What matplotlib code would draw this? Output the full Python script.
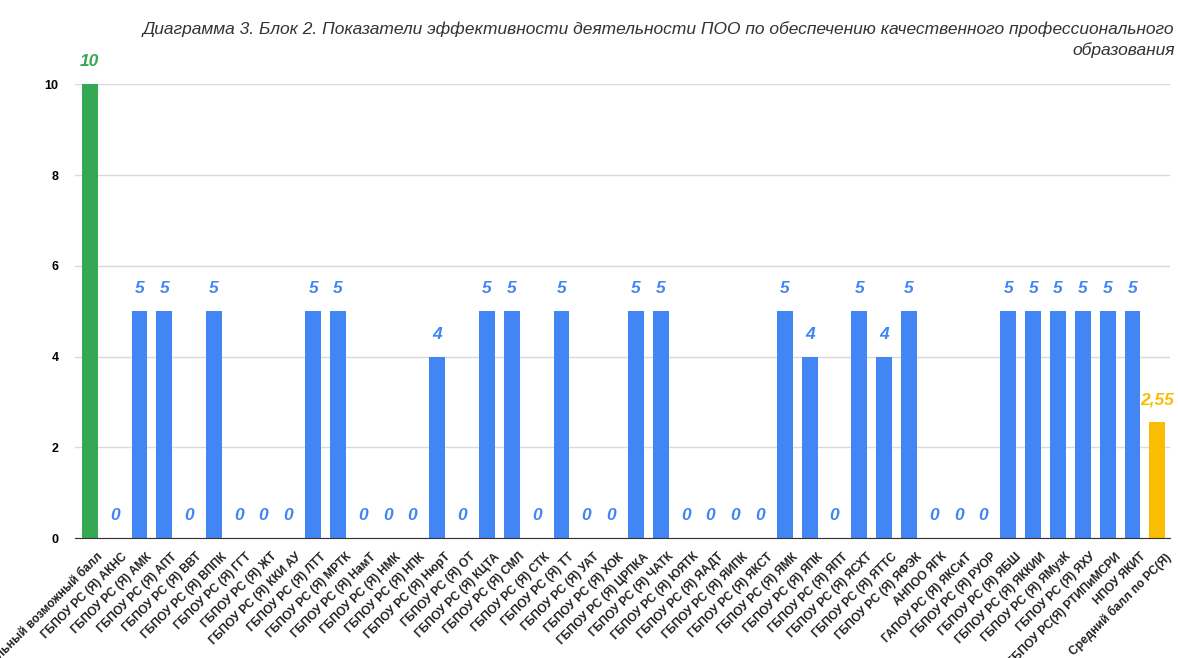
import matplotlib.pyplot as plt

plt.rcParams['font.family'] = ['Liberation Sans', 'DejaVu Sans']

p = "ГБПОУ РС (Я) "
labels = ["Максимальный возможный балл",
          p + "АКНС", p + "АМК", p + "АПТ", p + "ВВТ", p + "ВППК", p + "ГГТ",
          p + "ЖТ", p + "ККИ АУ", p + "ЛТТ", p + "МРТК", p + "НамТ", p + "НМК",
          p + "НПК", p + "НюрТ", p + "ОТ", p + "КЦТА", p + "СМЛ", p + "СТК",
          p + "ТТ", p + "УАТ", p + "ХОК", p + "ЦРПКА", p + "ЧАТК", p + "ЮЯТК",
          p + "ЯАДТ", p + "ЯИПК", p + "ЯКСТ", p + "ЯМК", p + "ЯПК", p + "ЯПТ",
          p + "ЯСХТ", p + "ЯТТС", p + "ЯФЭК", "АНПОО ЯГК",
          "ГАПОУ РС (Я) ЯКСиТ", p + "РУОР", p + "ЯБШ", p + "ЯККИИ",
          p + "ЯМузК", p + "ЯХУ", "ГБПОУ РС(Я) РТИПиМСРИ", "НПОУ ЯКИТ",
          "Средний балл по РС(Я)"]
values = [10, 0, 5, 5, 0, 5, 0, 0, 0, 5, 5, 0, 0, 0, 4, 0, 5, 5, 0, 5, 0, 0,
          5, 5, 0, 0, 0, 0, 5, 4, 0, 5, 4, 5, 0, 0, 0, 5, 5, 5, 5, 5, 5, 2.55]
value_text = [("%.2f" % v).replace(".", ",") if v % 1 else "%d" % v for v in values]

blue = "#4285F4"
green = "#34A853"
yellow = "#FBBC04"
colors = [green] + [blue] * (len(values) - 2) + [yellow]

fig = plt.figure(figsize=(11.78, 6.58), dpi=100)
ax = fig.add_axes([0.064, 0.182, 0.929, 0.690])

x = range(len(values))
ax.bar(x, values, width=0.64, color=colors, zorder=3)

for i, v in enumerate(values):
    ax.text(i, v + 0.33, value_text[i], ha='center', va='bottom', color=colors[i],
            fontsize=12.5, fontweight='bold', fontstyle='italic', clip_on=False)

ax.set_xlim(-0.58, len(values) - 0.5)
ax.set_ylim(0, 10)
ax.set_yticks([0, 2, 4, 6, 8, 10])
ax.grid(axis='y', color='#d9d9d9', linewidth=1, zorder=0)
ax.set_xticks(list(x))
ax.set_xticklabels(labels, rotation=45, ha='right', rotation_mode='anchor',
                   fontsize=8.6, fontweight='bold', color='#222222')
ax.tick_params(axis='x', length=0, pad=9)
ax.tick_params(axis='y', length=0, pad=12, labelsize=9)
for lbl in ax.get_yticklabels():
    lbl.set_fontweight('bold')
# shift labels slightly right so their upper end sits beside the bar
import matplotlib.transforms as mtrans
shift = mtrans.ScaledTranslation(5 / 72, 0, fig.dpi_scale_trans)
for lbl in ax.get_xticklabels():
    lbl.set_transform(lbl.get_transform() + shift)

for s in ['top', 'right', 'left']:
    ax.spines[s].set_visible(False)
ax.spines['bottom'].set_color('#333333')
ax.spines['bottom'].set_zorder(4)

fig.text(0.997, 0.968,
         "Диаграмма 3. Блок 2. Показатели эффективности деятельности ПОО по обеспечению качественного профессионального\nобразования",
         ha='right', va='top', fontsize=12.5, fontstyle='italic', color='#333333',
         linespacing=1.4)

fig.savefig("out.png", dpi=100)
